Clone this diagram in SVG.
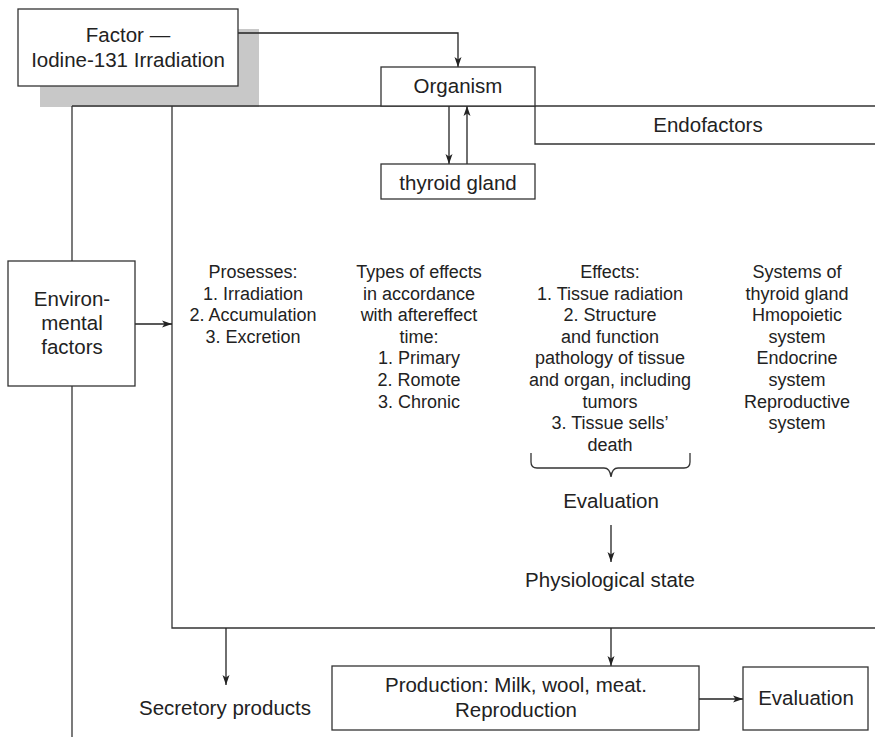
<svg xmlns="http://www.w3.org/2000/svg" width="875" height="737" viewBox="0 0 875 737">
<defs>
<marker id="ah" markerUnits="userSpaceOnUse" markerWidth="11" markerHeight="8" refX="10" refY="4" orient="auto">
<path d="M0,0.5 L10,4 L0,7.5 L2.5,4 z" fill="#222"/>
</marker>
<style>
.box{fill:#fff;stroke:#333;stroke-width:1.3}
.ln{fill:none;stroke:#333;stroke-width:1.3}
.ar{fill:none;stroke:#222;stroke-width:1.3;marker-end:url(#ah)}
text{font-family:"Liberation Sans",Arial,sans-serif;fill:#222;text-anchor:middle}
.lg{font-size:20.5px}
.sm{font-size:18px}
</style>
</defs>
<rect width="875" height="737" fill="#fff"/>
<rect x="40" y="29" width="219" height="78" fill="#c8c8c8"/>
<g id="connectors">
<path class="ln" d="M72,106 H875"/>
<path class="ln" d="M172,106 V628 H875"/>
<path class="ln" d="M72,106 V261"/>
<path class="ln" d="M72,386 V737"/>
<path class="ln" d="M535,106 V144 H875"/>
<path class="ar" d="M238,33 H458 V67"/>
<path class="ar" d="M449,106 V164"/>
<path class="ar" d="M467,164 V106"/>
<path class="ar" d="M135,324 H172"/>
<path class="ar" d="M611,525 V562"/>
<path class="ar" d="M226,628 V685"/>
<path class="ar" d="M611,628 V666"/>
<path class="ar" d="M699,699 H743"/>
<path class="ln" d="M531,453 V462 Q531,468 537,468 H604 Q610,468 611,477 Q612,468 618,468 H684 Q690,468 690,462 V453"/>
</g>
<g id="factor">
<rect class="box" x="18" y="9" width="220" height="77"/>
<text class="lg" x="128" y="42">Factor —</text>
<text class="lg" x="128" y="67">Iodine-131 Irradiation</text>
</g>
<g id="organism">
<rect class="box" x="381" y="67" width="154" height="39"/>
<text class="lg" x="458" y="93">Organism</text>
</g>
<g id="thyroid">
<rect class="box" x="381" y="164" width="154" height="35"/>
<text class="lg" x="458" y="190">thyroid gland</text>
</g>
<g id="endofactors">
<text class="lg" x="708" y="132">Endofactors</text>
</g>
<g id="environmental">
<rect class="box" x="8" y="261" width="127" height="125"/>
<text class="lg" x="72" y="306">Environ-</text>
<text class="lg" x="72" y="330">mental</text>
<text class="lg" x="72" y="354">factors</text>
</g>
<g id="processes">
<text class="sm" x="253" y="278">Prosesses:</text>
<text class="sm" x="253" y="299.6">1. Irradiation</text>
<text class="sm" x="253" y="321.2">2. Accumulation</text>
<text class="sm" x="253" y="342.8">3. Excretion</text>
</g>
<g id="types">
<text class="sm" x="419" y="278">Types of effects</text>
<text class="sm" x="419" y="299.6">in accordance</text>
<text class="sm" x="419" y="321.2">with aftereffect</text>
<text class="sm" x="419" y="342.8">time:</text>
<text class="sm" x="419" y="364.4">1. Primary</text>
<text class="sm" x="419" y="386">2. Romote</text>
<text class="sm" x="419" y="407.6">3. Chronic</text>
</g>
<g id="effects">
<text class="sm" x="610" y="278">Effects:</text>
<text class="sm" x="610" y="299.6">1. Tissue radiation</text>
<text class="sm" x="610" y="321.2">2. Structure</text>
<text class="sm" x="610" y="342.8">and function</text>
<text class="sm" x="610" y="364.4">pathology of tissue</text>
<text class="sm" x="610" y="386">and organ, including</text>
<text class="sm" x="610" y="407.6">tumors</text>
<text class="sm" x="610" y="429.2">3. Tissue sells’</text>
<text class="sm" x="610" y="450.8">death</text>
</g>
<g id="systems">
<text class="sm" x="797" y="278">Systems of</text>
<text class="sm" x="797" y="299.6">thyroid gland</text>
<text class="sm" x="797" y="321.2">Hmopoietic</text>
<text class="sm" x="797" y="342.8">system</text>
<text class="sm" x="797" y="364.4">Endocrine</text>
<text class="sm" x="797" y="386">system</text>
<text class="sm" x="797" y="407.6">Reproductive</text>
<text class="sm" x="797" y="429.2">system</text>
</g>
<g id="evaluation1">
<text class="lg" x="611" y="508">Evaluation</text>
</g>
<g id="physiological">
<text class="lg" x="610" y="587">Physiological state</text>
</g>
<g id="secretory">
<text class="lg" x="225" y="715">Secretory products</text>
</g>
<g id="production">
<rect class="box" x="332" y="666" width="367" height="64"/>
<text class="lg" x="516" y="692">Production: Milk, wool, meat.</text>
<text class="lg" x="516" y="717">Reproduction</text>
</g>
<g id="evaluation2">
<rect class="box" x="743" y="667" width="125" height="63"/>
<text class="lg" x="806" y="705">Evaluation</text>
</g>
</svg>
